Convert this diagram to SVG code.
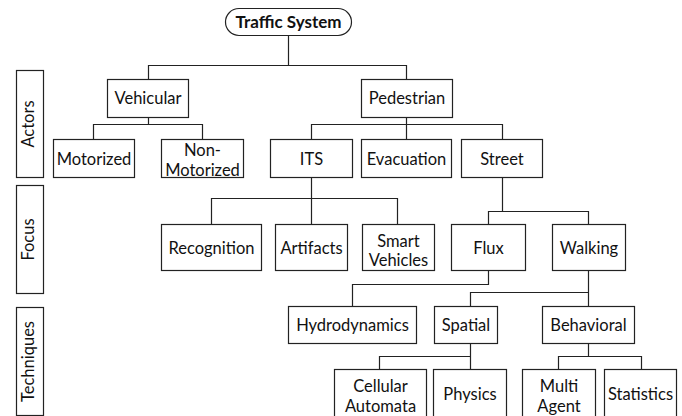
<svg xmlns="http://www.w3.org/2000/svg" width="682" height="416" viewBox="0 0 682 416">
<style>
rect{fill:#fff;stroke:#222;stroke-width:1.2}
text{font-family:Lato,"Liberation Sans",sans-serif;font-size:16.5px;fill:#111;text-anchor:middle}
.b{font-weight:bold;font-size:17px}
#connectors path{fill:none;stroke:#222;stroke-width:1.2}
</style>
<rect x="0" y="0" width="682" height="416" style="stroke:none"/>
<g id="connectors">
<path d="M288.5 35.5V65.5M148.5 79.5V65.5H406.5V79.5"/>
<path d="M148.5 117.5V124.5M93.5 139.5V124.5H202.5V139.5"/>
<path d="M406.5 117.5V139.5M311.5 139.5V124.5H502.5V139.5"/>
<path d="M311.5 177.5V224.5M211.5 224.5V198.5H397.5V224.5"/>
<path d="M502.5 177.5V211.5M488.5 224.5V211.5H588.5V224.5"/>
<path d="M488.5 270.5V284.5H352.5V306.5"/>
<path d="M588.5 270.5V306.5M470.5 306.5V292.5H588.5"/>
<path d="M470.5 343.5V369.5M379.5 369.5V356.5H470.5"/>
<path d="M588.5 343.5V356.5M558.5 369.5V356.5H641.5V369.5"/>
</g>
<g id="actors"><rect x="16.5" y="70.5" width="27" height="107"/><text x="34" y="124" transform="rotate(-90 34 124)">Actors</text></g>
<g id="focus"><rect x="16.5" y="185.5" width="27" height="108"/><text x="34" y="239.5" transform="rotate(-90 34 239.5)">Focus</text></g>
<g id="techniques"><rect x="16.5" y="307.5" width="27" height="108"/><text x="34" y="361.5" transform="rotate(-90 34 361.5)">Techniques</text></g>
<g id="traffic"><rect x="225.5" y="8.5" width="126" height="27" rx="13.5"/><text class="b" x="288.5" y="27.5">Traffic System</text></g>
<g id="vehicular"><rect x="107.5" y="79.5" width="81" height="38"/><text x="148" y="104">Vehicular</text></g>
<g id="pedestrian"><rect x="361.5" y="79.5" width="91" height="38"/><text x="407" y="104">Pedestrian</text></g>
<g id="motorized"><rect x="53.5" y="139.5" width="81" height="38"/><text x="94" y="164.5">Motorized</text></g>
<g id="nonmotorized"><rect x="161.5" y="139.5" width="82" height="38"/><text x="202.5" y="156">Non-</text><text x="202.5" y="175.5">Motorized</text></g>
<g id="its"><rect x="270.5" y="139.5" width="82" height="38"/><text x="311.5" y="164.5">ITS</text></g>
<g id="evacuation"><rect x="361.5" y="139.5" width="90" height="38"/><text x="406.5" y="164.5">Evacuation</text></g>
<g id="street"><rect x="461.5" y="139.5" width="81" height="38"/><text x="502" y="164.5">Street</text></g>
<g id="recognition"><rect x="161.5" y="224.5" width="100" height="46"/><text x="211.5" y="253.5">Recognition</text></g>
<g id="artifacts"><rect x="275.5" y="224.5" width="72" height="46"/><text x="311.5" y="253.5">Artifacts</text></g>
<g id="smart"><rect x="362.5" y="224.5" width="72" height="46"/><text x="398.5" y="246.5">Smart</text><text x="398.5" y="265.5">Vehicles</text></g>
<g id="flux"><rect x="451.5" y="224.5" width="74" height="46"/><text x="488.5" y="253.5">Flux</text></g>
<g id="walking"><rect x="552.5" y="224.5" width="73" height="46"/><text x="589" y="253.5">Walking</text></g>
<g id="hydrodynamics"><rect x="288.5" y="306.5" width="128" height="37"/><text x="352.5" y="331">Hydrodynamics</text></g>
<g id="spatial"><rect x="434.5" y="306.5" width="63" height="37"/><text x="466" y="331">Spatial</text></g>
<g id="behavioral"><rect x="542.5" y="306.5" width="92" height="37"/><text x="588.5" y="331">Behavioral</text></g>
<g id="cellular"><rect x="334.5" y="369.5" width="92" height="52"/><text x="380.5" y="392">Cellular</text><text x="380.5" y="411.5">Automata</text></g>
<g id="physics"><rect x="433.5" y="369.5" width="73" height="52"/><text x="470" y="400">Physics</text></g>
<g id="multiagent"><rect x="522.5" y="369.5" width="73" height="52"/><text x="559" y="392">Multi</text><text x="559" y="411.5">Agent</text></g>
<g id="statistics"><rect x="604.5" y="369.5" width="72" height="52"/><text x="640.5" y="400">Statistics</text></g>
</svg>
